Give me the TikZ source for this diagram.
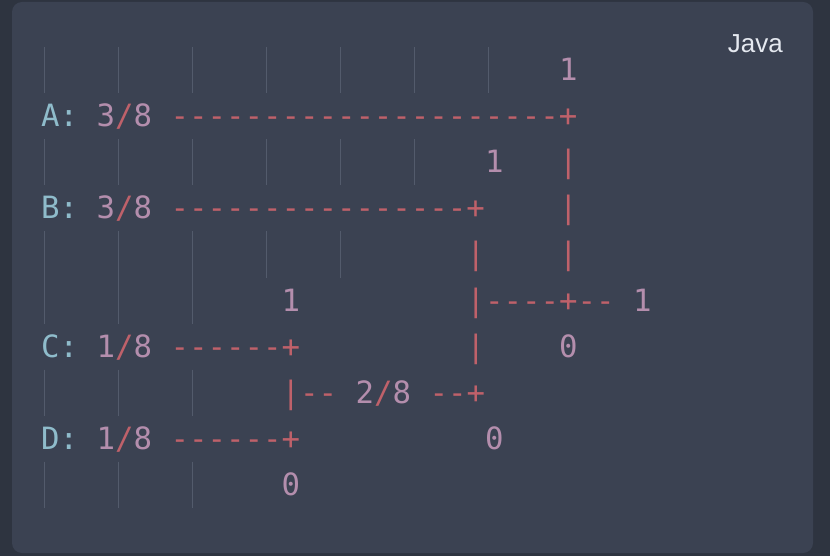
\documentclass[tikz,border=0pt]{standalone}
\usepackage{fontspec}
\usepackage{tikz}
\usetikzlibrary{calc}
\newfontfamily\codefont{DejaVu Sans Mono}[Ligatures=TeXOff]
\newfontfamily\langfont{Liberation Sans}
\definecolor{outerbg}{HTML}{2E3440}
\definecolor{panelbg}{HTML}{3B4252}
\definecolor{guidecol}{HTML}{535B6C}
\definecolor{keycol}{HTML}{8FBCCB}
\definecolor{numcol}{HTML}{B48EAD}
\definecolor{edgecol}{HTML}{BF616A}
\definecolor{langcol}{HTML}{E5E9F0}
% column and line of the code grid
\newcommand{\cx}[1]{41+18.5*#1}
\newcommand{\by}[1]{81+46*(#1-1)}
% indent guides of one line
\newcommand{\guides}[2]{\foreach \j in {0,...,#2} \draw[indent] ({44.5+74*\j},{1.5+46*#1}) -- ++(0,46);}

\begin{document}
\begin{tikzpicture}[x=1pt, y=-1pt]
  \tikzstyle{code}=[inner sep=0pt, anchor=base west, font=\codefont\fontsize{30.7}{46}\selectfont]
  \tikzstyle{indent}=[draw=guidecol, line width=1pt]
  \fill[outerbg] (0,0) rectangle (830,556);
  \useasboundingbox (0,0) rectangle (830,556);
  \fill[panelbg, rounded corners=10pt] (12,2) rectangle (813,553);
  \node[font=\langfont\fontsize{26}{30}\selectfont, text=langcol, inner sep=0pt, anchor=base east] (lang) at (783,53) {Java};

  \guides{1}{6}
  \guides{3}{5}
  \guides{5}{4}
  \guides{6}{2}
  \guides{8}{2}
  \guides{10}{2}

  % line 1
  \node[code, text=numcol] (bitA) at ({\cx{28}},{\by{1}}) {1};
  % A
  \node[code, text=keycol] (keyA) at ({\cx{0}},{\by{2}}) {A:};
  \node[code, text=numcol] (probA) at ({\cx{3}},{\by{2}}) {3\textcolor{edgecol}{/}8};
  \node[code, text=edgecol] (edgeA) at ({\cx{7}},{\by{2}}) {---------------------+};
  % line 3
  \node[code, text=numcol] (bitB) at ({\cx{24}},{\by{3}}) {1};
  \node[code, text=edgecol] (barA3) at ({\cx{28}},{\by{3}}) {|};
  % B
  \node[code, text=keycol] (keyB) at ({\cx{0}},{\by{4}}) {B:};
  \node[code, text=numcol] (probB) at ({\cx{3}},{\by{4}}) {3\textcolor{edgecol}{/}8};
  \node[code, text=edgecol] (edgeB) at ({\cx{7}},{\by{4}}) {----------------+};
  \node[code, text=edgecol] (barA4) at ({\cx{28}},{\by{4}}) {|};
  % line 5
  \node[code, text=edgecol] (barB5) at ({\cx{23}},{\by{5}}) {|};
  \node[code, text=edgecol] (barA5) at ({\cx{28}},{\by{5}}) {|};
  % line 6
  \node[code, text=numcol] (bitC) at ({\cx{13}},{\by{6}}) {1};
  \node[code, text=edgecol] (root) at ({\cx{23}},{\by{6}}) {|----+--};
  \node[code, text=numcol] (bitRoot) at ({\cx{32}},{\by{6}}) {1};
  % C
  \node[code, text=keycol] (keyC) at ({\cx{0}},{\by{7}}) {C:};
  \node[code, text=numcol] (probC) at ({\cx{3}},{\by{7}}) {1\textcolor{edgecol}{/}8};
  \node[code, text=edgecol] (edgeC) at ({\cx{7}},{\by{7}}) {------+};
  \node[code, text=edgecol] (barB7) at ({\cx{23}},{\by{7}}) {|};
  \node[code, text=numcol] (bitA0) at ({\cx{28}},{\by{7}}) {0};
  % line 8
  \node[code, text=edgecol] (mergeL) at ({\cx{13}},{\by{8}}) {|--};
  \node[code, text=numcol] (probCD) at ({\cx{17}},{\by{8}}) {2\textcolor{edgecol}{/}8};
  \node[code, text=edgecol] (mergeR) at ({\cx{21}},{\by{8}}) {--+};
  % D
  \node[code, text=keycol] (keyD) at ({\cx{0}},{\by{9}}) {D:};
  \node[code, text=numcol] (probD) at ({\cx{3}},{\by{9}}) {1\textcolor{edgecol}{/}8};
  \node[code, text=edgecol] (edgeD) at ({\cx{7}},{\by{9}}) {------+};
  \node[code, text=numcol] (bitCD0) at ({\cx{24}},{\by{9}}) {0};
  % line 10
  \node[code, text=numcol] (bitD) at ({\cx{13}},{\by{10}}) {0};
\end{tikzpicture}
\end{document}
